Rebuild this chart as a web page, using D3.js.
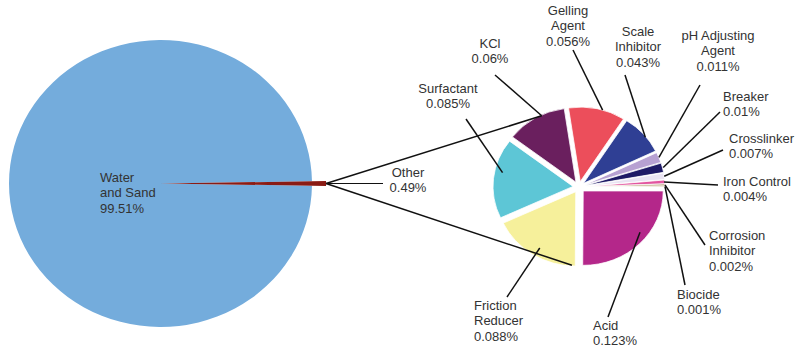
<!DOCTYPE html>
<html><head><meta charset="utf-8">
<script src="https://cdn.jsdelivr.net/npm/d3@7"></script>
<style>
body{margin:0;background:#fff}
text{font-family:"Liberation Sans",Arial,Helvetica,sans-serif;font-size:13px;fill:#333}
</style>
</head><body><svg id="c" width="800" height="353"></svg>
<script>
// ---- data ----
const mainCategories = ["Water and Sand", "Other"];
const mainValues = [99.51, 0.49];
const mainColors = ["#74acdc", "#8a1b14"];

const otherCategories = ["Acid","Friction Reducer","Surfactant","KCl","Gelling Agent","Scale Inhibitor","pH Adjusting Agent","Breaker","Crosslinker","Iron Control","Corrosion Inhibitor","Biocide"];
const otherValues = [0.123,0.088,0.085,0.06,0.056,0.043,0.011,0.01,0.007,0.004,0.002,0.001];
const otherColors = ["#b4278a","#f6f09b","#5dc6d6","#6a1f5e","#ec4e5b","#2f3f94","#b7a1d2","#1e1a66","#e9e3f2","#e2559f","#a88b57","#cdb98d"];
const otherLabelLines = [["Acid"],["Friction","Reducer"],["Surfactant"],["KCl"],["Gelling","Agent"],["Scale","Inhibitor"],["pH Adjusting","Agent"],["Breaker"],["Crosslinker"],["Iron Control"],["Corrosion","Inhibitor"],["Biocide"]];
const mainLabelLines = [["Water","and Sand"],["Other"]];

// ---- layout (positions only) ----
const otherLabelLayout = [
  {x:593,y:325,a:"start", lx:608,ly:317, t:0.42, rf:0.90},
  {x:474,y:305,a:"start", lx:507,ly:297, t:0.47, rf:0.88},
  {x:448,y:88, a:"middle",lx:466,ly:119, t:0.59, rf:0.90},
  {x:490,y:43, a:"middle",lx:495,ly:75,  t:0.61, rf:0.99},
  {x:568,y:10, a:"middle",lx:573,ly:50,  t:0.60, rf:1.0},
  {x:638,y:31, a:"middle",lx:625,ly:75,  t:0.59, rf:0.99},
  {x:718,y:35, a:"middle",lx:700,ly:85,  t:0.5,  rf:1.0},
  {x:723,y:96, a:"start", lx:720,ly:112, t:0.5,  rf:1.01},
  {x:729,y:138,a:"start", lx:723,ly:150, t:0.5,  rf:1.0},
  {x:723,y:181,a:"start", lx:718,ly:185, t:0.5,  rf:0.99},
  {x:709,y:235,a:"start", lx:705,ly:245, t:0.5,  rf:1.0},
  {x:677,y:294,a:"start", lx:685,ly:285, t:0.5,  rf:1.0}
];
const lineH = 15.5;
const big = {cx:160.5, cy:183.5, r:151.5, sy:0.947, otherR:165.5};
const small = {cx:579, cy:187, r:80, sy:0.93, explode:6};

const svg = d3.select("#c");

function pt(cx, cy, r, a, sy){ return [cx + r*Math.sin(a), cy - r*Math.cos(a)*sy]; }

// ---- big pie ----
const otherAngle = 2*Math.PI*mainValues[1]/d3.sum(mainValues);
const bigPie = d3.pie().sort(null)
  .startAngle(Math.PI/2 - otherAngle/2)
  .endAngle(Math.PI/2 - otherAngle/2 + 2*Math.PI);
const bigData = bigPie([mainValues[1], mainValues[0]]);
const bigArcs = [
  {d: bigData[1], color: mainColors[0], r: big.r},
  {d: bigData[0], color: mainColors[1], r: big.otherR}
];
const gBig = svg.append("g").attr("transform", `translate(${big.cx},${big.cy}) scale(1,${big.sy})`);
gBig.selectAll("path").data(bigArcs).join("path")
  .attr("d", o => d3.arc().innerRadius(0).outerRadius(o.r)(o.d))
  .attr("fill", o => o.color);

// ---- small pie ----
const smallPie = d3.pie().sort(null).startAngle(Math.PI/2).endAngle(Math.PI/2 + 2*Math.PI);
const smallData = smallPie(otherValues);
const arcS = d3.arc().innerRadius(0).outerRadius(small.r);
function sliceCenter(d){
  const m = (d.startAngle + d.endAngle)/2;
  return pt(small.cx, small.cy, small.explode, m, small.sy);
}
const gSmall = svg.append("g");
smallData.forEach((d,i) => {
  const c = sliceCenter(d);
  gSmall.append("path")
    .attr("transform", `translate(${c[0]},${c[1]}) scale(1,${small.sy})`)
    .attr("d", arcS(d))
    .attr("fill", otherColors[i])
    .attr("stroke", "#fff").attr("stroke-width", 0.8);
});
function slicePoint(i, t, rf){
  const d = smallData[i];
  const c = sliceCenter(d);
  const a = d.startAngle + t*(d.endAngle - d.startAngle);
  return pt(c[0], c[1], rf*small.r, a, small.sy);
}

// ---- connectors from "Other" ----
const tip = pt(big.cx, big.cy, big.otherR, Math.PI/2, big.sy);
const conTop = slicePoint(3, 0.61, 0.99);
const conBot = slicePoint(1, 0.037, 0.99);
const gLines = svg.append("g").attr("stroke","#111").attr("stroke-width",1.5).attr("fill","none");
gLines.append("line").attr("x1",tip[0]).attr("y1",tip[1]).attr("x2",conTop[0]).attr("y2",conTop[1]);
gLines.append("line").attr("x1",tip[0]).attr("y1",tip[1]).attr("x2",conBot[0]).attr("y2",conBot[1]);
gLines.append("line").attr("x1",tip[0]).attr("y1",tip[1]).attr("x2",383).attr("y2",tip[1]).attr("stroke-width",1.2);

// ---- leaders ----
otherLabelLayout.forEach((L,i) => {
  const e = slicePoint(i, L.t, L.rf);
  gLines.append("line").attr("x1",L.lx).attr("y1",L.ly).attr("x2",e[0]).attr("y2",e[1]);
});

// ---- labels ----
function addLabel(lines, x, y, anchor){
  const t = svg.append("text").attr("text-anchor", anchor);
  lines.forEach((s,k) => {
    t.append("tspan").attr("x", x).attr("y", y + k*lineH).attr("dominant-baseline","central").text(s);
  });
}
otherLabelLayout.forEach((L,i) => {
  addLabel(otherLabelLines[i].concat([otherValues[i] + "%"]), L.x, L.y, L.a);
});
addLabel(mainLabelLines[0].concat([mainValues[0] + "%"]), 100, 177, "start");
addLabel(mainLabelLines[1].concat([mainValues[1] + "%"]), 408, 172, "middle");
</script>
</body></html>
